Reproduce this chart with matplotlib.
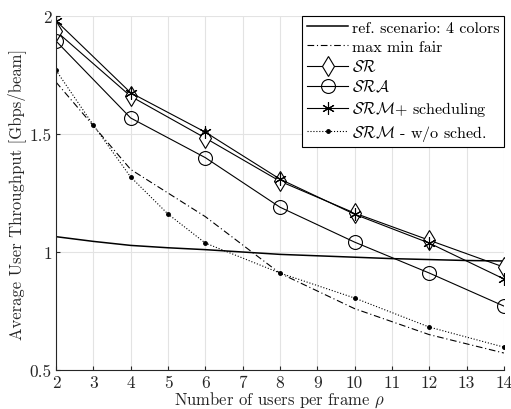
import matplotlib
matplotlib.use("Agg")
import matplotlib.pyplot as plt

plt.rcParams["font.family"] = "serif"
plt.rcParams["font.serif"] = ["cmr10"]
plt.rcParams["mathtext.fontset"] = "cm"
plt.rcParams["axes.unicode_minus"] = False

# users per frame
users_even = [2, 4, 6, 8, 10, 12, 14]
users_all = [2, 3, 4, 5, 6, 7, 8, 9, 10, 11, 12, 13, 14]
users_wo = [2, 3, 4, 5, 6, 8, 10, 12, 14]

ref_4colors = [1.065, 1.045, 1.028, 1.018, 1.010, 1.000, 0.990, 0.984,
               0.978, 0.972, 0.968, 0.964, 0.962]
max_min_fair = [1.72, 1.35, 1.15, 0.91, 0.76, 0.65, 0.572]
sr = [1.936, 1.66, 1.483, 1.30, 1.165, 1.05, 0.936]
sra = [1.894, 1.568, 1.40, 1.19, 1.042, 0.911, 0.771]
srm_sched = [1.98, 1.675, 1.508, 1.309, 1.16, 1.038, 0.886]
srm_wo = [1.77, 1.538, 1.318, 1.161, 1.038, 0.911, 0.805, 0.682, 0.597]

labels = [
    "ref. scenario: 4 colors",
    "max min fair",
    r"$\mathcal{SR}$",
    r"$\mathcal{SRA}$",
    r"$\mathcal{SRM}$+ scheduling",
    r"$\mathcal{SRM}$ - w/o sched.",
]

fig = plt.figure(figsize=(5.11, 4.10), dpi=100)
ax = fig.add_axes([0.1096, 0.0951, 0.8764, 0.8634])

ax.plot(users_all, ref_4colors, "-", color="black", lw=1.1, label=labels[0])
ax.plot(users_even, max_min_fair, "-.", color="black", lw=0.8,
        dashes=(6, 2.5, 1, 2.5), label=labels[1])
ax.plot(users_even, sr, "-", color="black", lw=0.8, marker="d", ms=10,
        mfc="white", mec="black", mew=0.8, label=labels[2])
ax.plot(users_even, sra, "-", color="black", lw=0.8, marker="o", ms=10,
        mfc="none", mec="black", mew=0.8, label=labels[3])
ax.plot(users_even, srm_sched, "-", color="black", lw=0.8, marker=(6, 2, 0),
        ms=9, mec="black", mew=0.8, label=labels[4])
ax.plot(users_wo, srm_wo, ":", color="black", lw=0.8, marker="o", ms=2.5,
        mfc="black", mec="black", label=labels[5])

ax.set_xlim(2, 14)
ax.set_ylim(0.5, 2)
ax.set_xticks(range(2, 15))
ax.set_yticks([0.5, 1, 1.5, 2])
ax.set_yticklabels(["0.5", "1", "1.5", "2"])
ax.tick_params(direction="in", length=3, labelsize=12.5, colors="#262626",
               pad=3)
ax.grid(True, color="#e3e3e3", lw=0.8)
ax.set_axisbelow(True)
for side in ("top", "right"):
    ax.spines[side].set_visible(False)
for side in ("left", "bottom"):
    ax.spines[side].set_color("#262626")

ax.set_xlabel(r"Number of users per frame $\rho$", fontsize=12,
              color="#262626", labelpad=0)
ax.set_ylabel("Average User Throughput [Gbps/beam]", fontsize=12,
              color="#262626", labelpad=3)

leg = ax.legend(loc="upper right", fontsize=11.5, frameon=True, fancybox=False,
                borderaxespad=0, handlelength=2.6, handletextpad=0.2,
                labelspacing=0.28, borderpad=0.3, framealpha=1)
leg.get_frame().set_edgecolor("black")
leg.get_frame().set_linewidth(0.8)

fig.savefig("out.png", dpi=100)
